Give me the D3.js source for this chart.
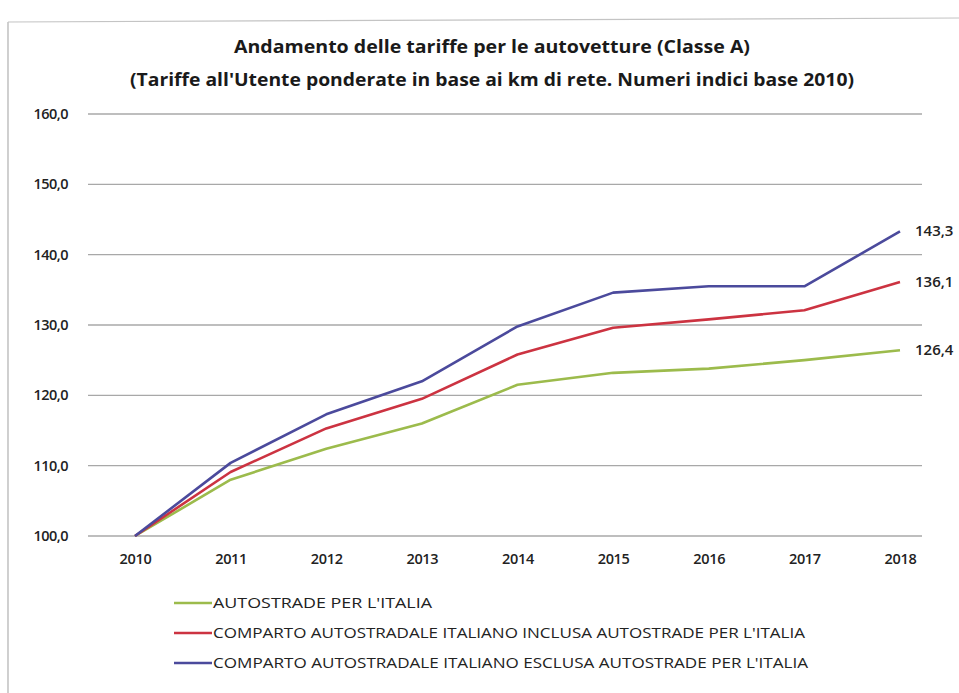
<!DOCTYPE html>
<html>
<head>
<meta charset="utf-8">
<script src="https://cdn.jsdelivr.net/npm/d3@7"></script>
<style>
  html, body { margin: 0; padding: 0; background: #fff; }
  svg { display: block; }
  text { font-family: "Open Sans", "Noto Sans", sans-serif; }
</style>
</head>
<body>
<svg id="chart" width="959" height="693"></svg>
<script>
const years = [2010, 2011, 2012, 2013, 2014, 2015, 2016, 2017, 2018];
const seriesNames = [
  "AUTOSTRADE PER L'ITALIA",
  "COMPARTO AUTOSTRADALE ITALIANO INCLUSA AUTOSTRADE PER L'ITALIA",
  "COMPARTO AUTOSTRADALE ITALIANO ESCLUSA AUTOSTRADE PER L'ITALIA"
];
const aspi   = [100, 108.0, 112.4, 116.0, 121.5, 123.2, 123.8, 125.0, 126.4];
const incl   = [100, 109.1, 115.3, 119.5, 125.8, 129.6, 130.8, 132.1, 136.1];
const excl   = [100, 110.4, 117.3, 122.0, 129.8, 134.6, 135.5, 135.5, 143.3];
const endLabels = ["126,4", "136,1", "143,3"];
const yTicks = [100, 110, 120, 130, 140, 150, 160];
const colors = ["#9cbb4c", "#cc3341", "#4b4a9c"];
const titleLines = [
  "Andamento delle tariffe per le autovetture (Classe A)",
  "(Tariffe all'Utente ponderate in base ai km di rete. Numeri indici base 2010)"
];

const svg = d3.select("#chart");
const fmt = v => d3.format(".1f")(v).replace(".", ",");

// frame
svg.append("line").attr("x1", 8).attr("y1", 22).attr("x2", 8).attr("y2", 693)
  .attr("stroke", "#b0b0b0").attr("stroke-width", 1.2);
svg.append("line").attr("x1", 8).attr("y1", 22).attr("x2", 959).attr("y2", 18)
  .attr("stroke", "#c4c4c4").attr("stroke-width", 1.2);

// title
const tw = [516, 724];
titleLines.forEach((t, i) => {
  svg.append("text").attr("x", 492).attr("y", 53 + i * 33)
    .attr("text-anchor", "middle")
    .attr("font-size", 17).attr("font-weight", "bold").attr("fill", "#1a1a1a")
    .attr("textLength", tw[i]).attr("lengthAdjust", "spacingAndGlyphs")
    .text(t);
});

const x = d3.scalePoint().domain(years).range([135, 900]);
const y = d3.scaleLinear().domain([100, 160]).range([536, 114]);

// grid
const grid = svg.append("g");
grid.selectAll("line").data(yTicks).join("line")
  .attr("x1", 88).attr("x2", 922)
  .attr("y1", d => y(d)).attr("y2", d => y(d))
  .attr("stroke", "#a8a8a8").attr("stroke-width", 1.3);

// y axis
const yAxis = svg.append("g").attr("transform", "translate(70,0)")
  .call(d3.axisLeft(y).tickValues(yTicks).tickFormat(fmt).tickSize(0).tickPadding(2));
yAxis.select(".domain").remove();
yAxis.selectAll("text").attr("font-size", 14.5).attr("fill", "#222")
  .attr("font-family", "'Open Sans', 'Noto Sans', sans-serif").attr("font-weight", 600)
  .attr("letter-spacing", "-0.5");

// x axis
const xAxis = svg.append("g").attr("transform", "translate(0,550)")
  .call(d3.axisBottom(x).tickSize(0).tickPadding(4));
xAxis.select(".domain").remove();
xAxis.selectAll("text").attr("font-size", 14.5).attr("fill", "#222")
  .attr("font-family", "'Open Sans', 'Noto Sans', sans-serif").attr("font-weight", 600)
  .attr("letter-spacing", "-0.3");

// lines
const data = [aspi, incl, excl];
const line = d3.line().x((d, i) => x(years[i])).y(d => y(d));
data.forEach((s, k) => {
  svg.append("path").datum(s)
    .attr("d", line).attr("fill", "none")
    .attr("stroke", colors[k]).attr("stroke-width", 2.6)
    .attr("stroke-linejoin", "round");
  svg.append("text")
    .attr("x", x(years[years.length - 1]) + 15)
    .attr("y", y(s[s.length - 1]) + 5)
    .attr("font-size", 15).attr("fill", "#222").attr("font-weight", 600)
    .text(endLabels[k]);
});

// legend
const legendW = [219, 592, 595];
seriesNames.forEach((n, k) => {
  const ly = 603 + k * 30;
  svg.append("line").attr("x1", 174).attr("x2", 212).attr("y1", ly).attr("y2", ly)
    .attr("stroke", colors[k]).attr("stroke-width", 2.6);
  svg.append("text").attr("x", 213).attr("y", ly + 5)
    .attr("font-size", 14).attr("fill", "#222")
    .attr("textLength", legendW[k]).attr("lengthAdjust", "spacingAndGlyphs")
    .text(n);
});
</script>
</body>
</html>
